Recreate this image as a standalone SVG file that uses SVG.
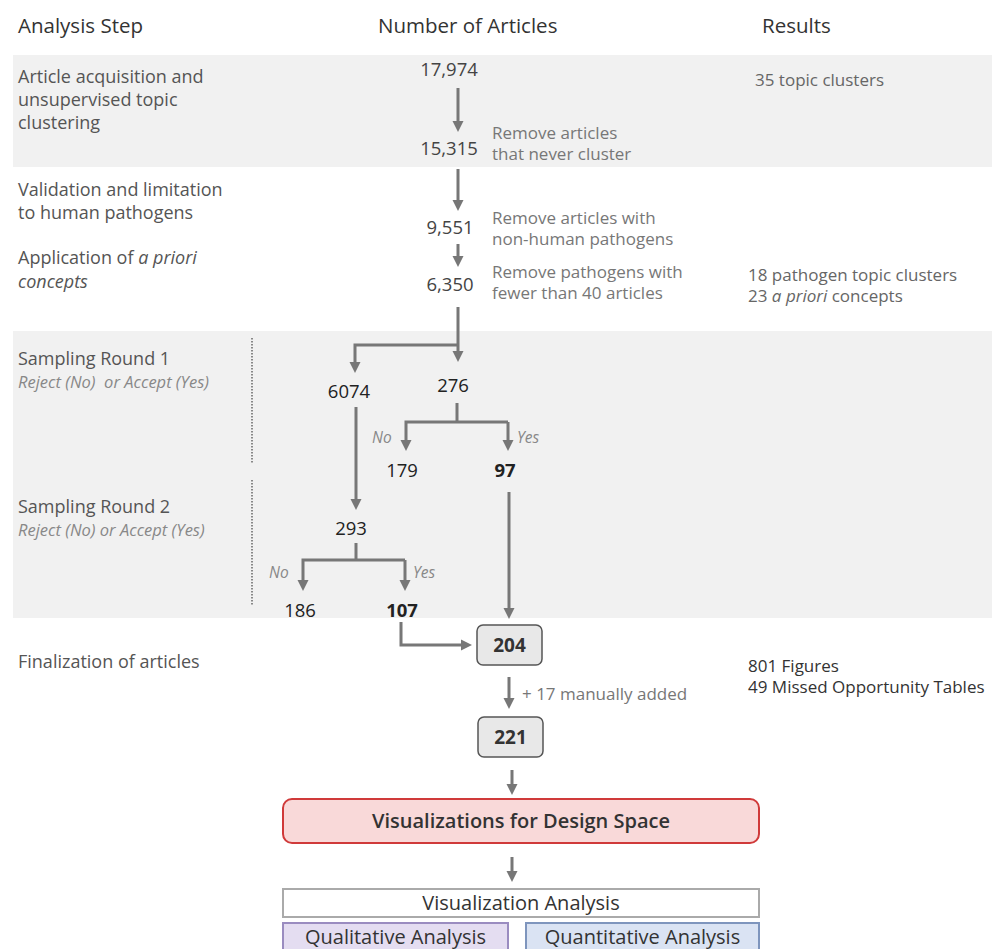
<svg xmlns="http://www.w3.org/2000/svg" width="992" height="949" viewBox="0 0 992 949">
<defs>
<marker id="ah" markerUnits="userSpaceOnUse" markerWidth="12" markerHeight="12" refX="1" refY="6" orient="auto">
<path d="M0,0.5 L11,6 L0,11.5 z" fill="#777"/>
</marker>
<style>
text{font-family:"Open Sans","Liberation Sans",sans-serif}
.hd{font-size:20.5px;fill:#333}
.st{font-size:18px;fill:#555}
.num{font-size:18.5px;fill:#444;text-anchor:middle}
.sn{font-size:18.5px;fill:#222;text-anchor:middle}
.b{font-weight:bold}
.rm{font-size:17px;fill:#777}
.res{font-size:17px;fill:#666}
.sub{font-size:16.5px;fill:#888;font-style:italic;white-space:pre}
.yn{font-size:15.5px;fill:#888;font-style:italic}
.it{font-style:italic}
.band{fill:#f1f1f1}
.dot{stroke:#888;stroke-width:2;stroke-dasharray:1.5 1.5}
.ln{fill:none;stroke:#777;stroke-width:3}
.ar{fill:none;stroke:#777;stroke-width:3;marker-end:url(#ah)}
.cnt{fill:#e8e8e8;stroke:#555;stroke-width:1.5}
.cntt{font-size:19px;font-weight:bold;fill:#333;text-anchor:middle}
.big{font-size:20px;fill:#333;text-anchor:middle}
</style>
</defs>
<rect class="band" x="13" y="55" width="979" height="112"/>
<rect class="band" x="13" y="331" width="979" height="287"/>
<line class="dot" x1="252" y1="338" x2="252" y2="463"/>
<line class="dot" x1="252" y1="480" x2="252" y2="605"/>

<g id="headers">
<text class="hd" x="18" y="33">Analysis Step</text>
<text class="hd" x="378" y="33">Number of Articles</text>
<text class="hd" x="762" y="33">Results</text>
</g>

<g id="step1">
<text class="st" x="18" y="83">Article acquisition and</text>
<text class="st" x="18" y="106">unsupervised topic</text>
<text class="st" x="18" y="129">clustering</text>
</g>
<g id="step2">
<text class="st" x="18" y="196">Validation and limitation</text>
<text class="st" x="18" y="219">to human pathogens</text>
</g>
<g id="step3">
<text class="st" x="18" y="264">Application of <tspan class="it">a priori</tspan></text>
<text class="st it" x="18" y="288">concepts</text>
</g>
<g id="step4">
<text class="st" x="18" y="365">Sampling Round 1</text>
<text class="sub" x="18" y="388" xml:space="preserve">Reject (No)  or Accept (Yes)</text>
</g>
<g id="step5">
<text class="st" x="18" y="513">Sampling Round 2</text>
<text class="sub" x="18" y="536">Reject (No) or Accept (Yes)</text>
</g>
<g id="step6">
<text class="st" x="18" y="668">Finalization of articles</text>
</g>

<g id="n17974"><text class="num" x="449" y="76">17,974</text></g>
<g id="n15315"><text class="num" x="449" y="155">15,315</text></g>
<g id="n9551"><text class="num" x="450" y="234">9,551</text></g>
<g id="n6350"><text class="num" x="450" y="291">6,350</text></g>

<g id="notes">
<text class="rm" x="492" y="139">Remove articles</text>
<text class="rm" x="492" y="160">that never cluster</text>
<text class="rm" x="492" y="224">Remove articles with</text>
<text class="rm" x="492" y="245">non-human pathogens</text>
<text class="rm" x="492" y="278">Remove pathogens with</text>
<text class="rm" x="492" y="299">fewer than 40 articles</text>
<text class="rm" x="522" y="700">+ 17 manually added</text>
</g>

<g id="results">
<text class="res" x="755" y="86">35 topic clusters</text>
<text class="res" x="748" y="281">18 pathogen topic clusters</text>
<text class="res" x="748" y="302">23 <tspan class="it">a priori</tspan> concepts</text>
<text class="res" x="748" y="672" style="fill:#333">801 Figures</text>
<text class="res" x="748" y="693" style="fill:#333">49 Missed Opportunity Tables</text>
</g>

<g id="n6074"><text class="sn" x="349" y="398">6074</text></g>
<g id="n276"><text class="sn" x="453" y="392">276</text></g>
<g id="n179"><text class="sn" x="402" y="477">179</text></g>
<g id="n97"><text class="sn b" x="505" y="477">97</text></g>
<g id="n293"><text class="sn" x="351" y="535">293</text></g>
<g id="n186"><text class="sn" x="300" y="617">186</text></g>
<g id="n107"><text class="sn b" x="402" y="617">107</text></g>

<g id="labels">
<text class="yn" x="372" y="443">No</text>
<text class="yn" x="517" y="443">Yes</text>
<text class="yn" x="269" y="578">No</text>
<text class="yn" x="413" y="578">Yes</text>
</g>

<g id="n204">
<rect class="cnt" x="477" y="625" width="65" height="40" rx="6"/>
<text class="cntt" x="509.5" y="652">204</text>
</g>
<g id="n221">
<rect class="cnt" x="478" y="717" width="65" height="40" rx="6"/>
<text class="cntt" x="510.5" y="744">221</text>
</g>

<g id="design">
<rect x="283" y="799" width="476" height="44" rx="9" fill="#f9d9d9" stroke="#d03a3a" stroke-width="2"/>
<text class="big" x="521" y="828" style="font-weight:600">Visualizations for Design Space</text>
</g>
<g id="va">
<rect x="283" y="889" width="476" height="28" fill="#fff" stroke="#aaa" stroke-width="2"/>
<text class="big" x="521" y="910">Visualization Analysis</text>
</g>
<g id="qual">
<rect x="283" y="923" width="225" height="32" fill="#e4ddf1" stroke="#9a8cc0" stroke-width="2"/>
<text class="big" x="395.5" y="944">Qualitative Analysis</text>
</g>
<g id="quant">
<rect x="526" y="923" width="233" height="32" fill="#dae3f3" stroke="#7e95bd" stroke-width="2"/>
<text class="big" x="642.5" y="944">Quantitative Analysis</text>
</g>

<g id="connectors">
<line class="ar" x1="458" y1="88" x2="458" y2="122"/>
<line class="ar" x1="458" y1="169" x2="458" y2="201"/>
<line class="ar" x1="458" y1="244" x2="458" y2="257"/>
<line class="ar" x1="458" y1="307" x2="458" y2="352"/>
<polyline class="ar" points="458,345 355,345 355,363"/>
<polyline class="ln" points="457,403 457,422"/>
<polyline class="ar" points="508,422 406,422 406,441"/>
<line class="ar" x1="508" y1="422" x2="508" y2="441"/>
<line class="ar" x1="356" y1="407" x2="356" y2="500"/>
<polyline class="ln" points="356,543 356,560"/>
<polyline class="ar" points="405,560 303,560 303,581"/>
<line class="ar" x1="405" y1="560" x2="405" y2="581"/>
<line class="ar" x1="509" y1="492" x2="509" y2="609"/>
<polyline class="ar" points="401,622 401,645 462,645"/>
<line class="ar" x1="509" y1="677" x2="509" y2="699"/>
<line class="ar" x1="512" y1="770" x2="512" y2="785"/>
<line class="ar" x1="512" y1="857" x2="512" y2="872"/>
</g>
</svg>
